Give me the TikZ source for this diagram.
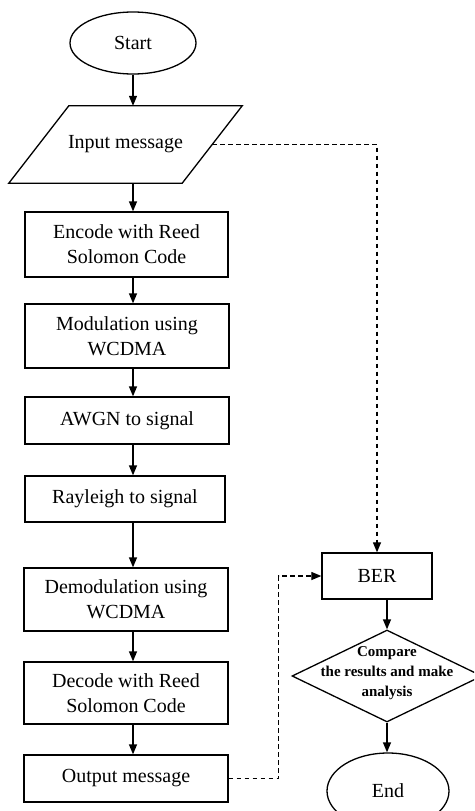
\documentclass[tikz,border=0pt]{standalone}
\usepackage{fontspec}
\setmainfont{Liberation Serif}
\usetikzlibrary{shapes.geometric,arrows.meta}
\begin{document}
\begin{tikzpicture}[x=1pt,y=-1pt,
  every node/.style={font=\fontsize{20}{25}\selectfont, align=center, inner sep=0pt},
  procbox/.style={draw, line width=1.3pt, rectangle},
  term/.style={draw, line width=1.3pt, ellipse},
  decide/.style={draw, line width=1.3pt, diamond},
  flow/.style={line width=1.3pt, -{Triangle[length=10pt,width=8pt]}},
  dashflow/.style={line width=1.2pt, dash pattern=on 4.5pt off 3.5pt,
                   -{Triangle[length=10pt,width=8pt]}},
  dashline/.style={line width=1.2pt, dash pattern=on 4.5pt off 3.5pt}
]
\clip (0,0) rectangle (474,811);

% terminators
\node[term, minimum width=126pt, minimum height=62pt] (start) at (133,43) {Start};
\node[term, minimum width=122pt, minimum height=76pt] (end) at (388,791) {End};

% input: a parallelogram drawn around an invisible body node
\node[minimum width=173pt, minimum height=77pt] (inp) at (125.5,144.5) {Input message};
\draw[line width=1.3pt] ([xshift=30pt]inp.north west) -- ([xshift=30pt]inp.north east)
  -- ([xshift=-30pt]inp.south east) -- ([xshift=-30pt]inp.south west) -- cycle;

% processing chain
\node[procbox, minimum width=203pt, minimum height=65pt] (enc)   at (126.5,244.5) {Encode with Reed\\Solomon Code};
\node[procbox, minimum width=204pt, minimum height=64pt] (mod)   at (127,336)     {Modulation using\\WCDMA};
\node[procbox, minimum width=204pt, minimum height=47pt] (awgn)  at (127,420.5)   {AWGN to signal};
\node[procbox, minimum width=200pt, minimum height=46pt] (ray)   at (125,499)     {Rayleigh to signal};
\node[procbox, minimum width=204pt, minimum height=63pt] (demod) at (126,599.5)   {Demodulation using\\WCDMA};
\node[procbox, minimum width=204pt, minimum height=62pt] (dec)   at (126,693)     {Decode with Reed\\Solomon Code};
\node[procbox, minimum width=204pt, minimum height=47pt] (out)   at (126,778.5)   {Output message};

% evaluation branch
\node[procbox, minimum width=110pt, minimum height=46pt] (ber) at (377,576) {BER};
\node[decide, minimum width=190pt, minimum height=92pt] (dia) at (387,676)
  {\smash{\makebox[0pt]{\fontsize{15}{20}\selectfont\bfseries
   \setlength\tabcolsep{0pt}\begin{tabular}{c}Compare\\the results and make\\analysis\end{tabular}}}};

% main flow
\draw[flow] (start.south -| start) -- (start |- inp.north);
\draw[flow] (inp.south -| start) -- (enc.north -| start);
\draw[flow] (enc.south -| start) -- (mod.north -| start);
\draw[flow] (mod.south -| start) -- (awgn.north -| start);
\draw[flow] (awgn.south -| start) -- (ray.north -| start);
\draw[flow] (ray.south -| start) -- (demod.north -| start);
\draw[flow] (demod.south -| start) -- (dec.north -| start);
\draw[flow] (dec.south -| start) -- (out.north -| start);

\draw[flow] (ber.south -| dia) -- (dia.north);
\draw[flow] (dia.south) -- (end.north -| dia);

% dashed links to BER
\draw[dashflow] (inp.east) -| (ber.north);
\draw[dashflow] (out.east) -- ++(50,0) |- (ber.west);
\end{tikzpicture}
\end{document}
